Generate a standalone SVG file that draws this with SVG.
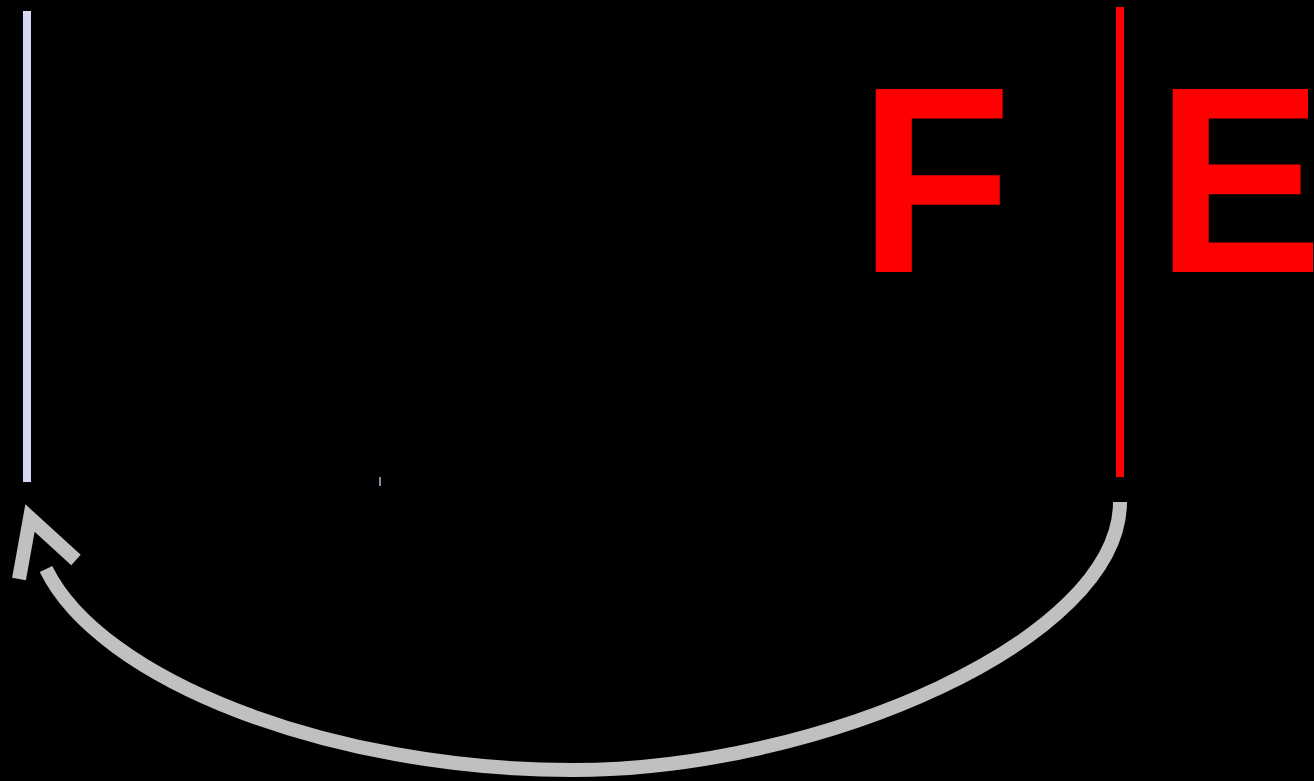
<svg xmlns="http://www.w3.org/2000/svg" width="1314" height="781" viewBox="0 0 1314 781">
<style>
.lbl{font-family:"Liberation Sans",Arial,sans-serif;font-weight:bold;font-size:266px;fill:#ff0000}
.conn{fill:none;stroke:#c0c0c0;stroke-width:14}
</style>
<rect width="1314" height="781" fill="#000"/>
<g id="bar-left"><line x1="27" y1="11" x2="27" y2="482" stroke="#d6d6f5" stroke-width="8"/></g>
<g id="tick"><line x1="380" y1="477" x2="380" y2="486" stroke="#b8b8d8" stroke-width="1.5"/></g>
<g id="bar-right"><line x1="1120" y1="7" x2="1120" y2="477" stroke="#ff0000" stroke-width="8"/></g>
<g id="label-F"><text class="lbl" transform="translate(859,272) scale(0.94,1)">F</text></g>
<g id="label-E"><text class="lbl" transform="translate(1156,272) scale(0.94,1)">E</text></g>
<g id="connectors">
<path class="conn" d="M1120,502 C1120,640 820,770 573,770 C330,770 100,680 46,569"/>
<polyline class="conn" points="19,579 30,518 76,560" stroke-width="13" stroke-linejoin="miter" stroke-miterlimit="10"/>
</g>
</svg>
